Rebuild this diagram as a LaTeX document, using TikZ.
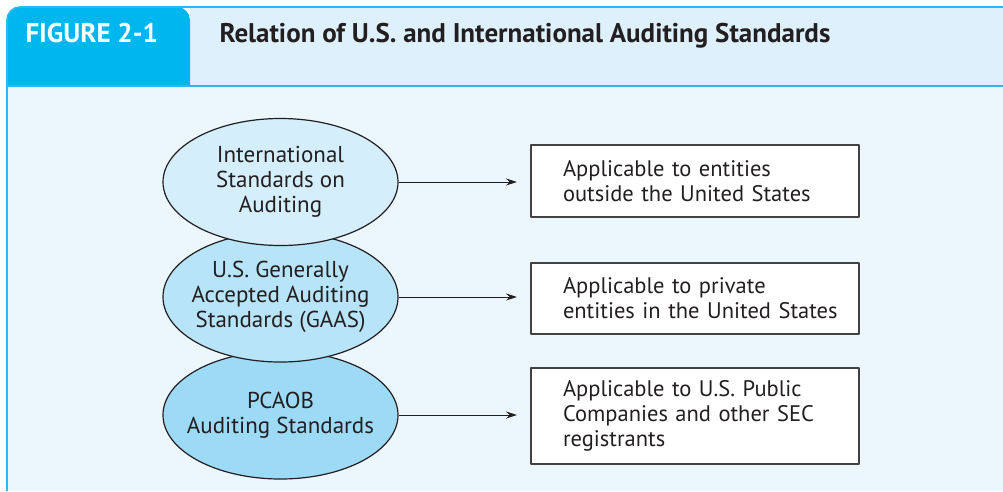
\documentclass[tikz,border=0pt]{standalone}
\usepackage{fontspec}
\setmainfont{PT Sans}
\usetikzlibrary{shapes.geometric,arrows.meta}
\definecolor{figblue}{HTML}{00B6EE}
\definecolor{figline}{HTML}{2CB9EA}
\definecolor{headbg}{HTML}{DDF0FC}
\definecolor{bodybg}{HTML}{EBF6FD}
\definecolor{inkdark}{HTML}{231F20}
\definecolor{ellone}{HTML}{D4EEFB}
\definecolor{elltwo}{HTML}{B7E4F8}
\definecolor{ellthree}{HTML}{9DDAF5}
\begin{document}
\begin{tikzpicture}[x=1pt,y=-1pt,>={Stealth[length=11pt,width=7pt]},line join=round,
		stdellipse/.style={ellipse,draw=inkdark,line width=1.2pt,minimum width=235pt,inner xsep=-30pt,inner ysep=0pt,align=center,text=inkdark,font=\fontsize{23}{25}\selectfont},
		scopebox/.style={rectangle,draw=inkdark!85,line width=1.3pt,fill=white,minimum width=328pt,text width=296pt,inner xsep=16pt,inner ysep=0pt,align=left,text=inkdark,font=\fontsize{22.5}{25}\selectfont,execute at begin node={\leftskip=16pt\relax}}]
	\useasboundingbox (0,0) rectangle (1003,491);
	\fill[bodybg] (7,86) rectangle (1003,491);
	\fill[headbg] (190,7) rectangle (1003,86);
	\fill[figblue,rounded corners=13pt] (7,86) -- (7,7) -- (190,7) [sharp corners] -- (190,86) -- cycle;
	\draw[figline,line width=1.6pt,rounded corners=13pt] (7,491) -- (7,7) -- (1003,7);
	\draw[figline,line width=1.3pt] (7,86) -- (1003,86);
	\node[anchor=base west,text=white,font=\fontsize{27}{30}\bfseries] (fignum) at (22,42) {FIGURE 2-1};
	\node[anchor=base west,text=inkdark,font=\fontsize{27}{30}\bfseries] (figtitle) at (216,42) {Relation of U.S. and International Auditing Standards};
	\node[stdellipse,fill=ellthree,minimum height=128pt] (pcaob) at (280.5,415) {PCAOB\\Auditing Standards};
	\node[stdellipse,fill=elltwo,minimum height=130pt] (gaas) at (280.5,297) {U.S. Generally\\Accepted Auditing\\Standards (GAAS)};
	\node[stdellipse,fill=ellone,minimum height=127pt] (isa) at (280.5,182) {International\\Standards on\\Auditing};
	\node[scopebox,minimum height=72pt] (isascope) at (695,181) {Applicable to entities\\outside the United States};
	\node[scopebox,minimum height=71pt] (gaasscope) at (695,298.5) {Applicable to private\\entities in the United States};
	\node[scopebox,minimum height=96pt] (pcaobscope) at (695,416) {Applicable to U.S. Public\\Companies and other SEC\\registrants};
	\coordinate (arrowend) at (517,0);
	\draw[->,line width=1pt,inkdark] (isa.east) -- (isa.east -| arrowend);
	\draw[->,line width=1pt,inkdark] (gaas.east) -- (gaas.east -| arrowend);
	\draw[->,line width=1pt,inkdark] (pcaob.east) -- (pcaob.east -| arrowend);
\end{tikzpicture}
\end{document}
